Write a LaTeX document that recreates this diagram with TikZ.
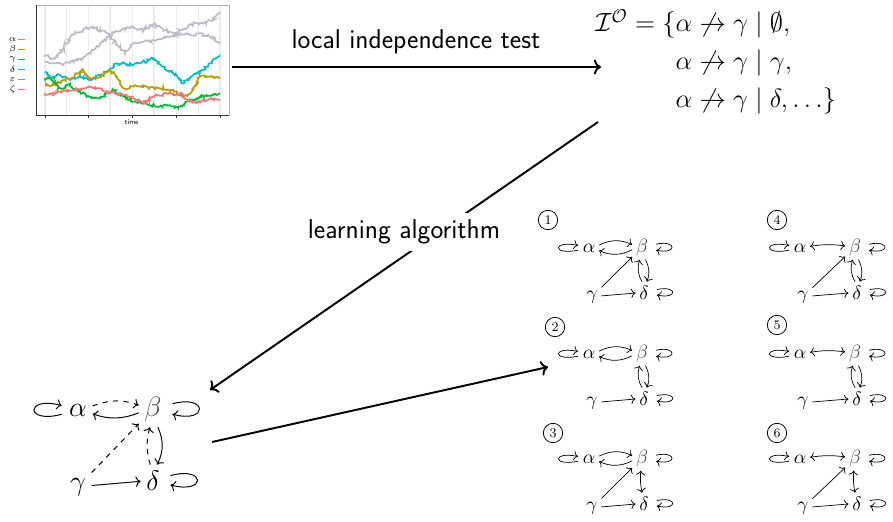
\documentclass[tikz,border=0pt]{standalone}
\usepackage{fix-cm}
\usepackage{amsmath}
\usepackage{fontspec}
\usetikzlibrary{arrows.meta,decorations.pathmorphing}

\definecolor{tsred}{HTML}{F8766D}
\definecolor{tsgold}{HTML}{B79F00}
\definecolor{tsgreen}{HTML}{00BA38}
\definecolor{tscyan}{HTML}{00BFC4}
\definecolor{tsblue}{HTML}{619CFF}
\definecolor{tspink}{HTML}{F564E3}
\definecolor{tsgrey}{HTML}{BDBBC6}

\tikzset{
  var/.style={inner sep=3pt, anchor=base},
  svar/.style={inner sep=2pt, anchor=base},
  walk/.style={line width=1pt, decorate,
    decoration={random steps, segment length=0.9pt, amplitude=0.9pt}},
  flow/.style={->, line width=1.1pt},
  lbl/.style={font=\sffamily\fontsize{15.5}{18}\selectfont},
  numbox/.style={circle, draw, line width=0.45pt, inner sep=0.6pt, minimum size=11pt,
    font=\fontsize{7.5}{8}\selectfont},
  selfloop/.style={->, shorten <=#1, shorten >=#1},
}

\begin{document}
\begin{tikzpicture}[x=0.02cm,y=-0.02cm,>=To]
\useasboundingbox (0,0) rectangle (893,521);
% ---- observed time series (coordinates in thirds of a pixel) ----
\begin{scope}[scale=1/3]
  \foreach \gx in {135,200,265,330,398,462,530,595,660}
    \draw[black!8, line width=0.6pt] (\gx,15) -- (\gx,345);
  \draw[black!30, line width=0.4pt] (110,15) rectangle (688,345);
  \draw[black!80, line width=0.5pt] (110,15) -- (110,345) -- (688,345);
  \foreach \gx in {135,265,398,530,660}
    \draw[black!80, line width=0.4pt] (\gx,345) -- (\gx,354);
  \node[font=\sffamily\fontsize{4}{5}\selectfont] (tlabel) at (395,368) {time};
  \foreach \g/\c/\ly in {\alpha/tsred/118,\beta/tsgold/148,\gamma/tsgreen/178,
                         \delta/tscyan/208,\varepsilon/tsblue/238,\zeta/tspink/268}{
    \node[font=\fontsize{5}{6}\selectfont, inner sep=0pt] at (38,\ly) {$\g$};
    \draw[\c, line width=0.6pt] (55,\ly) -- (75,\ly);}
  \pgfmathsetseed{11}
  \draw[walk, tsgrey] (135,185) -- (165,190) -- (190,195) -- (210,185) -- (250,175) -- (280,150)
    -- (310,125) -- (330,105) -- (370,85) -- (400,80) -- (430,90) -- (465,70) -- (490,90)
    -- (520,100) -- (560,85) -- (580,70) -- (610,70) -- (640,60) -- (660,40);
  \draw[walk, tsgrey] (135,165) -- (160,175) -- (180,160) -- (200,130) -- (215,105) -- (250,90)
    -- (280,80) -- (300,90) -- (320,100) -- (350,130) -- (375,160) -- (400,130) -- (430,125)
    -- (470,120) -- (510,110) -- (540,100) -- (570,105) -- (600,100) -- (630,110) -- (660,125);
  \draw[walk, tscyan] (135,215) -- (150,235) -- (180,225) -- (210,240) -- (240,225) -- (270,240)
    -- (300,225) -- (330,210) -- (350,190) -- (380,195) -- (420,190) -- (460,175) -- (490,200)
    -- (520,220) -- (545,250) -- (570,235) -- (600,215) -- (630,190) -- (660,170);
  \draw[walk, tsgold] (135,255) -- (160,255) -- (190,240) -- (215,235) -- (245,210) -- (270,235)
    -- (300,230) -- (330,210) -- (350,230) -- (370,265) -- (400,260) -- (440,260) -- (480,265)
    -- (520,270) -- (550,290) -- (575,275) -- (600,230) -- (630,230) -- (660,235);
  \draw[walk, tsgreen] (135,235) -- (155,235) -- (175,265) -- (210,255) -- (240,275) -- (260,290)
    -- (300,295) -- (340,270) -- (370,290) -- (400,305) -- (440,310) -- (470,320) -- (500,315)
    -- (535,325) -- (560,305) -- (590,295) -- (620,285) -- (660,280);
  \draw[walk, tsred] (135,280) -- (160,285) -- (200,270) -- (230,270) -- (260,262) -- (300,265)
    -- (330,280) -- (370,285) -- (400,295) -- (430,310) -- (460,290) -- (500,280) -- (540,280)
    -- (570,305) -- (600,305) -- (630,295) -- (660,300);
\end{scope}

% ---- independence statements ----
\node[anchor=west, inner sep=0pt, font=\fontsize{15}{18}\selectfont] (iset) at (595,63)
  {$\begin{array}{@{}r@{}l@{}}
     \mathcal{I}^{\mathcal{O}} = \{ & \alpha\not\rightarrow\gamma\mid\emptyset,\\[3.5pt]
      & \alpha\not\rightarrow\gamma\mid\gamma,\\[3.5pt]
      & \alpha\not\rightarrow\gamma\mid\delta,\ldots\}
   \end{array}$};

% ---- learned graph ----
\begin{scope}[font=\fontsize{16}{19}\selectfont, line width=0.55pt]
  \node[var] (A) at (78,416) {$\alpha$};
  \node[var, text=black!70] (B) at (153,416) {$\beta$};
  \node[var] (G) at (78,490) {$\gamma$};
  \node[var] (D) at (153,490) {$\delta$};
  \draw[->, dashed] (A.15) to[bend left=20] (B.165);
  \draw[->] (B.195) to[bend left=20] (A.-15);
  \draw[->, dashed] (D.100) to[bend left=15] (B.260);
  \draw[->] (B.-75) to[bend left=25] (D.75);
  \draw[->, dashed] (G) -- (B);
  \draw[->] (G) -- (D);
  \draw[selfloop=1pt] (A) to[out=195,in=165,min distance=0.8cm] (A);
  \draw[selfloop=3pt] (B) to[out=15,in=-15,min distance=0.85cm] (B);
  \draw[selfloop=3pt] (D) to[out=15,in=-15,min distance=0.85cm] (D);
\end{scope}

% ---- candidate graphs ----
\foreach \k/\nx/\ny/\ax/\ay/\bx/\ab/\bd/\gb in {
    1/548/220/589/252/53/0/0/1, 2/555/327/589/358/53/0/0/0,
    3/553/433/589/463/53/0/1/1, 4/777/220/800/252/55/1/0/1,
    5/777/325/800/358/55/1/0/0, 6/777/433/800/463/55/1/1/1}{
  \node[numbox] (num\k) at (\nx,\ny) {\k};
  \begin{scope}[shift={(\ax,\ay)}, font=\fontsize{11}{13}\selectfont, line width=0.4pt]
    \node[svar] (a\k) at (0,0) {$\alpha$};
    \node[svar, text=black!70] (b\k) at (\bx,0) {$\beta$};
    \node[svar] (g\k) at (3,47) {$\gamma$};
    \node[svar] (d\k) at (\bx+2,47) {$\delta$};
    \ifnum\ab=0
      \draw[->] (a\k.15) to[bend left=25] (b\k.165);
      \draw[->] (b\k.195) to[bend left=25] (a\k.-15);
    \else
      \draw[<->] (a\k) to[bend left=8] (b\k);
    \fi
    \ifnum\bd=0
      \draw[->] (d\k.100) to[bend left=25] (b\k.260);
      \draw[->] (b\k.-75) to[bend left=25] (d\k.75);
    \else
      \draw[<->] (b\k) to[bend right=8] (d\k);
    \fi
    \ifnum\gb=1
      \draw[->] (g\k) -- (b\k);
    \fi
    \draw[->] (g\k) -- (d\k);
    \draw[selfloop=0.5pt] (a\k) to[out=192,in=168,min distance=0.55cm] (a\k);
    \draw[selfloop=2.5pt] (b\k) to[out=12,in=-12,min distance=0.52cm] (b\k);
    \draw[selfloop=2.5pt] (d\k) to[out=12,in=-12,min distance=0.52cm] (d\k);
  \end{scope}}

% ---- pipeline arrows ----
\coordinate (tsout) at (232,67);
\coordinate (isetin) at (601,67);
\coordinate (isetout) at (598,122);
\coordinate (bigin) at (210,390);
\coordinate (bigout) at (212,442);
\coordinate (candin) at (548,367);
\draw[flow] (tsout) -- (isetin);
\node[lbl] (testlbl) at (416,42) {local independence test};
\draw[flow] (isetout) -- (bigin);
\node[lbl, fill=white, inner sep=4pt] (alglbl) at (404,232) {learning algorithm};
\draw[flow] (bigout) -- (candin);
\end{tikzpicture}
\end{document}
